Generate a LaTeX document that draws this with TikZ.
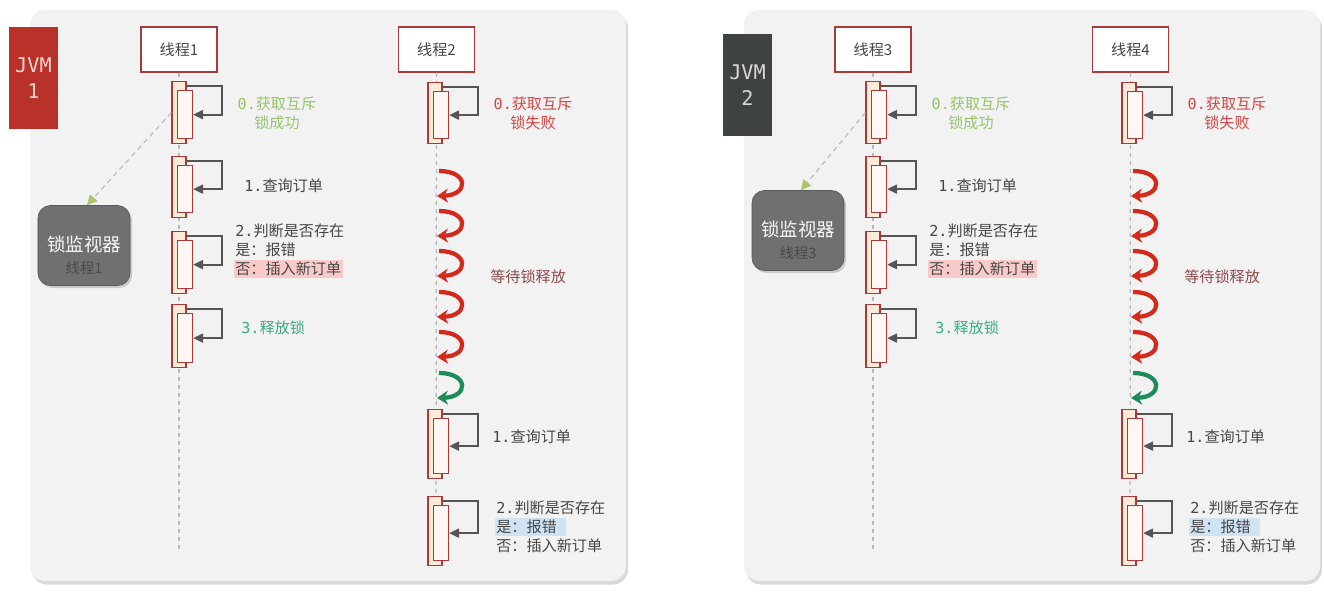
\documentclass[tikz,border=0pt]{standalone}
\usepackage{fontspec}
\setmainfont{Noto Sans CJK SC}
\setmonofont{DejaVu Sans Mono}
\usepackage{xcolor}
\usetikzlibrary{arrows.meta, positioning, calc, shadows}

\definecolor{panelbg}{HTML}{F2F2F2}
\definecolor{threadred}{HTML}{A83A3A}
\definecolor{barfill}{HTML}{FDEBD9}
\definecolor{innerfill}{HTML}{FFF7F3}
\definecolor{loopgray}{HTML}{555555}
\definecolor{txtgray}{HTML}{474747}
\definecolor{okgreen}{HTML}{97C46A}
\definecolor{failred}{HTML}{D04848}
\definecolor{freeteal}{HTML}{3AAA82}
\definecolor{waitbrown}{HTML}{8E4B4F}
\definecolor{hlpink}{HTML}{F9CACA}
\definecolor{hlblue}{HTML}{CFE3F3}
\definecolor{jvmred}{HTML}{B8322A}
\definecolor{jvmgray}{HTML}{3E4240}
\definecolor{jvmtxtred}{HTML}{F5D5CC}
\definecolor{jvmtxtgray}{HTML}{D8D8D8}
\definecolor{spinred}{HTML}{D42A1E}
\definecolor{spingreen}{HTML}{1E8C5A}
\definecolor{monfill}{HTML}{707070}
\definecolor{monsub}{HTML}{4A4A4A}
\definecolor{watchgreen}{HTML}{A9C46A}

\setlength{\fboxsep}{1pt}

\begin{document}
\begin{tikzpicture}[
  x=0.2mm, y=-0.2mm,
  txt/.style={font=\fontsize{8.6}{10.8}\selectfont, text=txtgray, inner sep=0pt},
  thread/.style={draw=threadred, line width=0.3mm, fill=white, minimum width=15.2mm,
                 minimum height=9mm, font=\fontsize{8.6}{10}\selectfont, text=txtgray},
  jvmbox/.style={minimum width=9mm, minimum height=20.4mm, align=center,
                 font=\ttfamily\fontsize{11.5}{14.5}\selectfont},
  lifeline/.style={draw=gray!55, line width=0.25mm, dash pattern=on 0.8mm off 0.8mm},
  outerbar/.style={draw=threadred, fill=barfill, line width=0.25mm, minimum width=2.8mm,
                   inner sep=0pt, anchor=north},
  innerbar/.style={draw=threadred, fill=innerfill, line width=0.25mm, minimum width=3mm,
                   inner sep=0pt, anchor=north},
  selfloop/.style={draw=loopgray, line width=0.4mm, -{Triangle[length=2mm, width=1.8mm]}},
  spin/.style={line width=0.85mm, -{Stealth[length=2.2mm, width=2.8mm]}},
  monitor/.style={rounded corners=2.5mm, draw=gray!70!black, fill=monfill, text=white!94!gray,
                  minimum width=18.4mm, minimum height=16mm, align=center,
                  font=\fontsize{10.5}{13}\selectfont,
                  drop shadow={opacity=0.35, shadow xshift=0.4mm, shadow yshift=-0.5mm}},
  watch/.style={draw=gray!50, line width=0.25mm, dash pattern=on 1mm off 0.8mm,
                -{Triangle[length=2mm, width=2mm, fill=watchgreen, color=watchgreen]}},
  panel/.style={fill=panelbg, rounded corners=3mm,
                drop shadow={opacity=0.3, shadow xshift=0.4mm, shadow yshift=-0.7mm}},
]
\useasboundingbox (0,0) rectangle (1324,594);

\foreach \p/\dx/\px/\jy/\my/\jcol/\jtxt/\jn/\ta/\tb in
  {L/0/0/0/0/jvmred/jvmtxtred/1/1/2, R/694/20/7/-15/jvmgray/jvmtxtgray/2/3/4} {
\begin{scope}[shift={(\dx,0)}]
  % panel, jvm and monitor
  \path[panel] (30+\px,10) rectangle (626,581);
  \node[jvmbox, fill=\jcol, text=\jtxt] (\p-jvm) at (33.5+\px,78+\jy) {JVM\\\jn};
  \node[monitor] (\p-mon) at (84+\px,245.5+\my)
    {\rule{0pt}{20pt}锁监视器\\{\fontsize{8.2}{13}\selectfont\color{monsub}线程\ta}};

  % threads and lifelines
  \node[thread] (\p-t1) at (179,49.5) {线程\ta};
  \node[thread] (\p-t2) at (436.5,49.5) {线程\tb};
  \coordinate (\p-e1) at (179,552);
  \coordinate (\p-e2) at (436,568);
  \draw[lifeline] (\p-t1) -- (\p-e1);
  \draw[lifeline] (\p-t2) -- (\p-e2);

  % activations of the first thread
  \foreach \n/\y/\h in {a/81/62, b/156/61, c/231/62, d/304/63} {
    \node[outerbar, minimum height=\h*0.2mm] (\p-1\n-o) at (179,\y) {};
    \node[innerbar, minimum height=(\h-14)*0.2mm] (\p-1\n-i) at (185,\y+9) {};
    \draw[selfloop] ([yshift=-1mm]\p-1\n-o.north east) -- ++(35,0) |- (\p-1\n-i.east);
  }
  % activations of the second thread
  \foreach \n/\y/\h in {a/82/61, b/409/69, c/496/69} {
    \node[outerbar, minimum height=\h*0.2mm] (\p-2\n-o) at (435,\y) {};
    \node[innerbar, minimum height=(\h-14)*0.2mm] (\p-2\n-i) at (441,\y+9) {};
    \draw[selfloop] ([yshift=-1mm]\p-2\n-o.north east) -- ++(35,0) |- (\p-2\n-i.east);
  }
  \draw[watch] (\p-1a-o.west) -- ([xshift=0.6mm]\p-mon.north);

  % waiting
  \foreach \y in {170,210,250,291,331}
    \draw[spin, spinred] (439,\y+1) .. controls (469,\y+1) and (469,\y+25) .. (437,\y+26);
  \draw[spin, spingreen] (439,373) .. controls (469,373) and (469,397) .. (437,398);

  % labels
  \node[txt, text=okgreen, align=center] (\p-s0) at (277,113) {\texttt{0.}获取互斥\\锁成功};
  \node[txt, anchor=west] (\p-s1) at (244,186) {\texttt{1.}查询订单};
  \node[txt, anchor=west, align=left] (\p-s2) at (235,251)
    {\texttt{2.}判断是否存在\\是：报错\\\hspace*{-\fboxsep}\colorbox{hlpink}{否：插入新订单}};
  \node[txt, text=freeteal, anchor=west] (\p-s3) at (241,328) {\texttt{3.}释放锁};

  \node[txt, text=failred, align=center] (\p-f0) at (533,113) {\texttt{0.}获取互斥\\锁失败};
  \node[txt, text=waitbrown, anchor=west] (\p-w) at (490,277) {等待锁释放};
  \node[txt, anchor=west] (\p-f1) at (492,437) {\texttt{1.}查询订单};
  \node[txt, anchor=west, align=left] (\p-f2) at (496,527)
    {\texttt{2.}判断是否存在\\\hspace*{-\fboxsep}\colorbox{hlblue}{是：报错\hspace{4pt}}\\否：插入新订单};
\end{scope}
}
\end{tikzpicture}
\end{document}
